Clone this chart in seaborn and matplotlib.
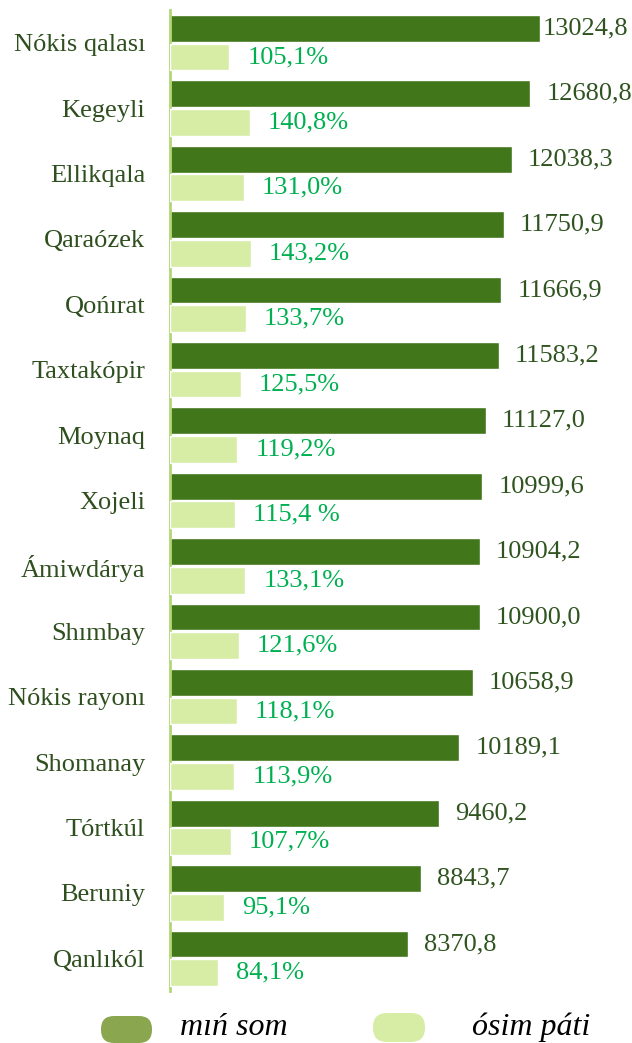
import matplotlib
matplotlib.use("Agg")
import matplotlib.pyplot as plt
import seaborn as sns
import pandas as pd
from matplotlib.patches import FancyBboxPatch

sns.set_style("white")
plt.rcParams['font.family'] = ['Liberation Serif', 'DejaVu Serif']

# data
regions = ["Nókis qalası", "Kegeyli", "Ellikqala", "Qaraózek", "Qońırat",
           "Taxtakópir", "Moynaq", "Xojeli", "Ámiwdárya", "Shımbay",
           "Nókis rayonı", "Shomanay", "Tórtkúl", "Beruniy", "Qanlıkól"]
som = [13024.8, 12680.8, 12038.3, 11750.9, 11666.9,
       11583.2, 11127.0, 10999.6, 10904.2, 10900.0,
       10658.9, 10189.1, 9460.2, 8843.7, 8370.8]
growth = [105.1, 140.8, 131.0, 143.2, 133.7,
          125.5, 119.2, 115.4, 133.1, 121.6,
          118.1, 113.9, 107.7, 95.1, 84.1]
som_labels = ["13024,8", "12680,8", "12038,3", "11750,9", "11666,9",
              "11583,2", "11127,0", "10999,6", "10904,2", "10900,0",
              "10658,9", "10189,1", "9460,2", "8843,7", "8370,8"]
growth_labels = ["105,1%", "140,8%", "131,0%", "143,2%", "133,7%",
                 "125,5%", "119,2%", "115,4 %", "133,1%", "121,6%",
                 "118,1%", "113,9%", "107,7%", "95,1%", "84,1%"]
series = ["mıń som", "ósim páti"]

dark = "#41761a"
light = "#d7eda6"
pal = {series[0]: dark, series[1]: light}
cat_color = "#2f4f1f"
val_color = "#2f5420"
pct_color = "#00b050"

df_som = pd.DataFrame({"region": regions, "value": som, "series": series[0]})
df_gr = pd.DataFrame({"region": regions, "value": growth, "series": series[1]})

fig = plt.figure(figsize=(6.32, 10.43), dpi=100)
ax = fig.add_axes([170 / 632, 52 / 1043, 430 / 632, 981 / 1043])
ax2 = ax.twiny()

sns.barplot(data=df_som, y="region", x="value", hue="series", hue_order=series,
            palette=pal, order=regions, width=0.872, gap=0.06, dodge=True,
            saturation=1, legend=False, ax=ax, orient="h")
sns.barplot(data=df_gr, y="region", x="value", hue="series", hue_order=series,
            palette=pal, order=regions, width=0.872, gap=0.06, dodge=True,
            saturation=1, legend=False, ax=ax2, orient="h")

ax.set_xlim(0, 15136)
ax2.set_xlim(0, 761)
ax.set_ylim(len(regions) - 0.5, -0.5)

# value labels
for p in ax.patches:
    i = int(round(p.get_y() + p.get_height() / 2))
    pad = 2 if i == 0 else 11.5
    ax.annotate(som_labels[i], (p.get_width(), p.get_y() + p.get_height() / 2),
                xytext=(pad, 0), textcoords="offset points", ha="left", va="center",
                fontsize=19, color=val_color)
for p in ax2.patches:
    i = int(round(p.get_y() + p.get_height() / 2))
    ax2.annotate(growth_labels[i], (p.get_width(), p.get_y() + p.get_height() / 2),
                 xytext=(13, 0), textcoords="offset points", ha="left", va="center",
                 fontsize=19, color=pct_color)

for a in (ax, ax2):
    a.set_xlabel("")
    a.set_ylabel("")
    a.set_xticks([])
    for s in a.spines.values():
        s.set_visible(False)
ax.spines["left"].set_visible(True)
ax.spines["left"].set_color("#b3d675")
ax.spines["left"].set_linewidth(2)
ax.tick_params(axis="y", length=0, pad=18, labelsize=19, labelcolor=cat_color)

# legend
fig.patches.append(FancyBboxPatch((1.01, 0.00), 0.51, 0.27,
                                  boxstyle="round,pad=0,rounding_size=0.13",
                                  transform=fig.dpi_scale_trans, facecolor="#8aa64f",
                                  edgecolor="none", figure=fig))
fig.patches.append(FancyBboxPatch((3.73, 0.01), 0.52, 0.29,
                                  boxstyle="round,pad=0,rounding_size=0.14",
                                  transform=fig.dpi_scale_trans, facecolor=light,
                                  edgecolor="none", figure=fig))
fig.text(180 / 632, 8 / 1043, series[0], fontsize=23, style="italic", color="black",
         ha="left", va="baseline")
fig.text(472 / 632, 8 / 1043, series[1], fontsize=23, style="italic", color="black",
         ha="left", va="baseline")

fig.savefig("out.png", dpi=100)
